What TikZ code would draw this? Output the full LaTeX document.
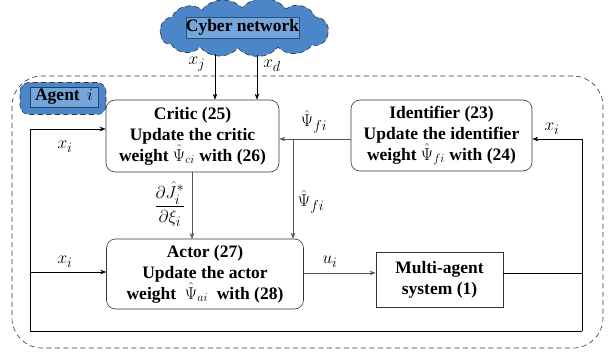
\documentclass[tikz,border=0pt]{standalone}
\usepackage{amsmath}
\usepackage{fontspec}
\setmainfont{Liberation Serif}
\usetikzlibrary{arrows.meta}
\definecolor{cloudblue}{HTML}{4A86C8}
\definecolor{lightblue}{HTML}{74A6DC}
\definecolor{linegray}{HTML}{555555}
\begin{document}
\begin{tikzpicture}[x=1pt,y=-1pt,
  font=\fontsize{17.5}{21}\selectfont\bfseries,
  blockbox/.style={draw=black!80, rounded corners=9pt, align=center, inner sep=0pt, line width=0.6pt},
  plainbox/.style={draw=black!80, align=center, inner sep=0pt, line width=0.7pt},
  arr/.style={-{Stealth[length=6pt,width=4.5pt]}, line width=0.6pt},
  wire/.style={line width=0.6pt},
  lab/.style={font=\fontsize{19}{22}\selectfont},
  dashline/.style={dash pattern=on 5pt off 3.5pt, black!80, line width=0.6pt},
]
\useasboundingbox (0,0) rectangle (615,358);
% outer agent region
\draw[dashline, rounded corners=30pt] (12,76) rectangle (603,348);
% cloud
\draw[dashline, fill=cloudblue]
  (161,35) to[bend left=55] (172,17) to[bend left=55] (202,10) to[bend left=50] (242,8)
  to[bend left=50] (286,9) to[bend left=55] (315,17) to[bend left=55] (328,33)
  to[bend left=55] (312,45) to[bend left=50] (278,47) to[bend left=50] (238,48)
  to[bend left=50] (200,47) to[bend left=55] (171,44) to[bend left=55] cycle;
\node[draw=cloudblue!60!black, fill=lightblue, inner sep=0pt, minimum width=111pt, minimum height=21pt] (cyber) at (242.5,27.5) {Cyber network};
% agent label
\node[dashline, draw, fill=cloudblue, rounded corners=9pt, minimum width=86pt, minimum height=32pt] (agentbg) at (63,98.5) {};
\node[draw=cloudblue!50!black, fill=lightblue, inner sep=0pt, minimum width=68pt, minimum height=20pt] (agent) at (64,97) {Agent \,$i$};
% blocks
\node[blockbox, minimum width=173pt, minimum height=72pt] (critic) at (192.5,136)
  {Critic (25)\\Update the critic\\weight $\hat{\Psi}_{ci}$ with (26)};
\node[blockbox, minimum width=181pt, minimum height=71pt] (ident) at (441.5,135.5)
  {Identifier (23)\\Update the identifier\\weight $\hat{\Psi}_{fi}$ with (24)};
\node[blockbox, minimum width=197pt, minimum height=70pt] (actor) at (205,274)
  {Actor (27)\\Update the actor\\weight\ \ $\hat{\Psi}_{ai}$\ \ with (28)};
\node[plainbox, minimum width=127pt, minimum height=55pt] (mas) at (439.5,279.5)
  {Multi-agent\\system (1)};
% coordinates
\coordinate (xjtop) at (215,54);
\coordinate (xdtop) at (257,55);
\coordinate (lt) at (30,129);
\coordinate (lb) at (30,331);
\coordinate (rb) at (582,331);
\coordinate (rt) at (582,139);
\coordinate (br) at (293,139);
% cyber inputs
\draw[arr] (xjtop) -- (xjtop |- critic.north);
\draw[arr] (xdtop) -- (xdtop |- critic.north);
\node[lab] (lxj) at (197,64) {$x_j$};
\node[lab] (lxd) at (272,66) {$x_d$};
% x_i feedback loop
\draw[wire] (mas.east |- 0,273) -- (582,273);
\draw[arr] (rb) -- (rt) -- (ident.east |- rt);
\draw[wire] (rb) -- (lb) -- (lt);
\draw[arr] (lt) -- (critic.west |- lt);
\draw[arr] (30,272) -- (actor.west |- 0,272);
\node[lab] (lxi1) at (65,147) {$x_i$};
\node[lab] (lxi2) at (65,262) {$x_i$};
\node[lab] (lxi3) at (552,129) {$x_i$};
% identifier outputs
\draw[arr, linegray] (ident.west |- br) -- (critic.east |- br);
\draw[arr, linegray] (br) -- (br |- actor.north);
\node[lab] (lpsi1) at (314,122) {$\hat{\Psi}_{fi}$};
\node[lab] (lpsi2) at (311,202) {$\hat{\Psi}_{fi}$};
% critic to actor
\draw[arr, linegray] (192,172) -- (192,239);
\node[lab] (lfrac) at (170,204) {$\dfrac{\partial \hat{J}_i^{*}}{\partial \xi_i}$};
% actor to system
\draw[arr, linegray] (actor.east |- 0,273) -- (mas.west |- 0,273);
\node[lab] (lui) at (330,262) {$u_i$};
\end{tikzpicture}
\end{document}
